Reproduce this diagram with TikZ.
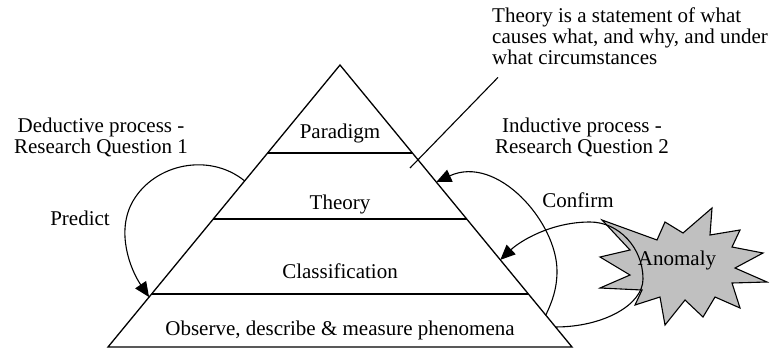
\documentclass[tikz,border=0pt]{standalone}
\usepackage{fontspec}
\setmainfont{Liberation Serif}
\usetikzlibrary{arrows.meta,calc}
\definecolor{anomfill}{RGB}{192,192,192}

\begin{document}
\begin{tikzpicture}[
  x=1pt, y=1pt,
  font=\fontsize{21}{21}\selectfont,
  lbl/.style={inner sep=0pt, anchor=base, align=center},
  pyr/.style={draw=black, line width=1.3pt},
  ar/.style={-{Triangle[length=15pt,width=13pt]}, line width=1.1pt},
  lead/.style={line width=1.1pt}
]
\useasboundingbox (0,0) rectangle (775,349);

% Pyramid outline
\coordinate (apex) at (340,284);
\coordinate (bl)   at (108,2);
\coordinate (br)   at (572,2);
\draw[pyr] (apex) -- (br) -- (bl) -- cycle;

% Points on the two sloping sides (tier lines and arrow ends)
\path (apex) -- (bl) coordinate[pos=0.312] (l1) coordinate[pos=0.546] (l2)
                     coordinate[pos=0.812] (l3)
                     coordinate[pos=0.411] (dstart) coordinate[pos=0.823] (dend);
\path (apex) -- (br) coordinate[pos=0.312] (r1) coordinate[pos=0.546] (r2)
                     coordinate[pos=0.812] (r3)
                     coordinate[pos=0.887] (istart) coordinate[pos=0.415] (iend)
                     coordinate[pos=0.929] (cstart) coordinate[pos=0.691] (cend);

% Tier lines
\draw[pyr] (l1) -- (r1);
\draw[pyr] (l2) -- (r2);
\draw[pyr] (l3) -- (r3);

% Tier labels
\node[lbl] (paradigm) at (340,211) {Paradigm};
\node[lbl] (theory)   at (340,140) {Theory};
\node[lbl] (classif)  at (340,71)  {Classification};
\node[lbl] (observe)  at (340,14)  {Observe, describe \& measure phenomena};

% Side labels
\node[lbl] (deduct)  at (101,196) {Deductive process -\\Research Question 1};
\node[lbl] (induct)  at (582,196) {Inductive process -\\Research Question 2};
\node[lbl] (predict) at (80,124)  {Predict};
\node[lbl] (confirm) at (578,142) {Confirm};

% Note on theory with its leader line
\node[lbl, anchor=base west, align=left] (note) at (492,285)
  {Theory is a statement of what\\causes what, and why, and under\\what circumstances};
\coordinate (leadend) at (410,181);
\draw[lead] ([shift={(6,-13)}]note.south west) -- (leadend);

% Anomaly burst
\filldraw[fill=anomfill, line width=1.1pt, line join=miter]
  (602,129) -- (657,109) -- (665,127) -- (683,116) -- (712,141) -- (710,114)
  -- (740,119) -- (732,102) -- (763,96) -- (735,81) -- (767,67) -- (732,66)
  -- (740,41) -- (715,52) -- (703,32) -- (685,49) -- (665,24) -- (660,52)
  -- (635,44) -- (642,59) -- (600,61) -- (630,74) -- (600,92) -- (630,99) -- cycle;

% Curved arrows
\draw[ar] (dstart) .. controls (209,197) and (154.5,185) .. (133,148)
                   .. controls (115.6,117.9) and (130,80) .. (dend);
\draw[ar] (istart) .. controls (552,47) and (557,60) .. (557,78)
                   .. controls (557,127) and (497,195) .. (iend);
\draw[ar] (cstart) .. controls (603,22) and (643,44) .. (643,70)
                   .. controls (643,101) and (619,127) .. (590,127)
                   .. controls (550,127) and (519,107) .. (cend);

\node[lbl] (anomaly) at (677,84) {Anomaly};
\end{tikzpicture}
\end{document}
